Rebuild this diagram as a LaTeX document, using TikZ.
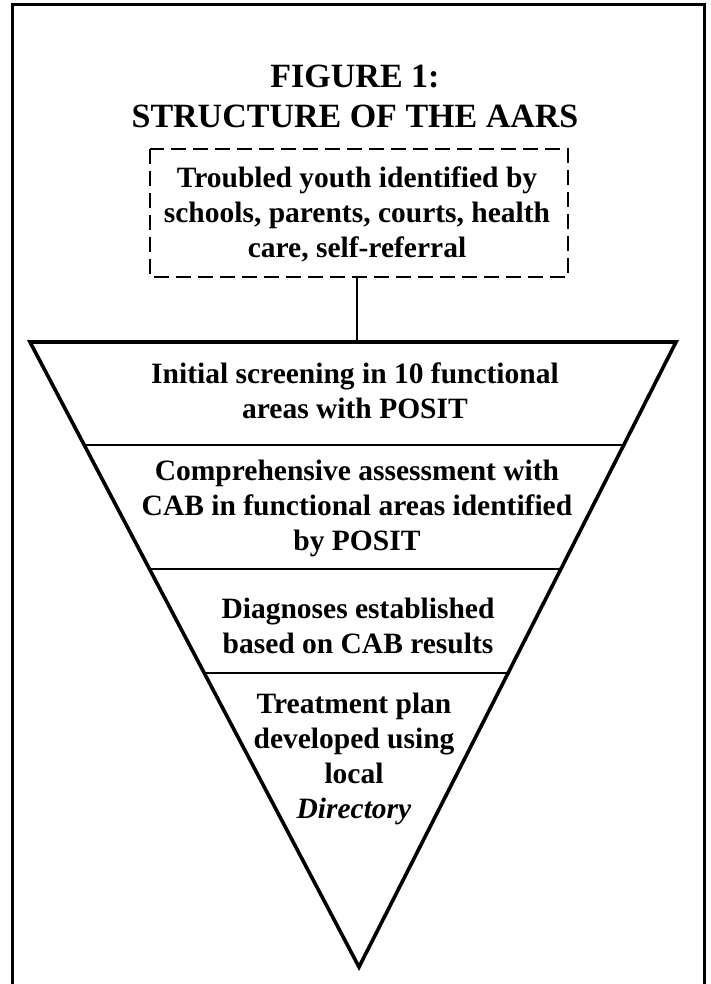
\documentclass[tikz,border=0pt]{standalone}
\usepackage{fontspec}
\setmainfont{Liberation Serif}
\usetikzlibrary{calc}
\begin{document}
\begin{tikzpicture}[x=1pt,y=-1pt,
  frame/.style={line width=3pt,line join=miter},
  dashbox/.style={line width=2.6pt,dash pattern=on 15pt off 7pt},
  tri/.style={line width=3.6pt,line join=miter,miter limit=20},
  divider/.style={line width=2pt},
  conn/.style={line width=2.6pt},
  ttl/.style={align=center,anchor=north,inner sep=0pt,font=\fontsize{34}{40}\selectfont\bfseries},
  body/.style={align=center,anchor=north,inner sep=0pt,font=\fontsize{29.5}{35}\selectfont\bfseries}]
\useasboundingbox (0,0) rectangle (711,984);
\draw[frame] (12,984) -- (12,5) -- (704,5) -- (704,984);
\node[ttl] (title) at (355,65) {FIGURE 1:\\STRUCTURE OF THE AARS};
\draw[dashbox] (150,149) rectangle (568,277);
\node[body] (src) at (357,167) {Troubled youth identified by\\schools, parents, courts, health\\care, self-referral};
\coordinate (boxb) at (357,277);
\coordinate (tl) at (30,342);
\coordinate (tr) at (676,342);
\coordinate (ap) at (359,967);
\coordinate (tt) at (357,342);
\draw[conn] (boxb) -- (tt);
\draw[tri] (tl) -- (tr) -- (ap) -- cycle;
\draw[divider] ($(tl)!0.1648!(ap)$) -- ($(tr)!0.1648!(ap)$);
\draw[divider] ($(tl)!0.3632!(ap)$) -- ($(tr)!0.3632!(ap)$);
\draw[divider] ($(tl)!0.5296!(ap)$) -- ($(tr)!0.5296!(ap)$);
\node[body] (s1) at (355,363) {Initial screening in 10 functional\\areas with POSIT};
\node[body] (s2) at (357,460) {Comprehensive assessment with\\CAB in functional areas identified\\by POSIT};
\node[body] (s3) at (358,598) {Diagnoses established\\based on CAB results};
\node[body] (s4) at (354,693) {Treatment plan\\developed using\\local\\\textit{Directory}};
\end{tikzpicture}
\end{document}
